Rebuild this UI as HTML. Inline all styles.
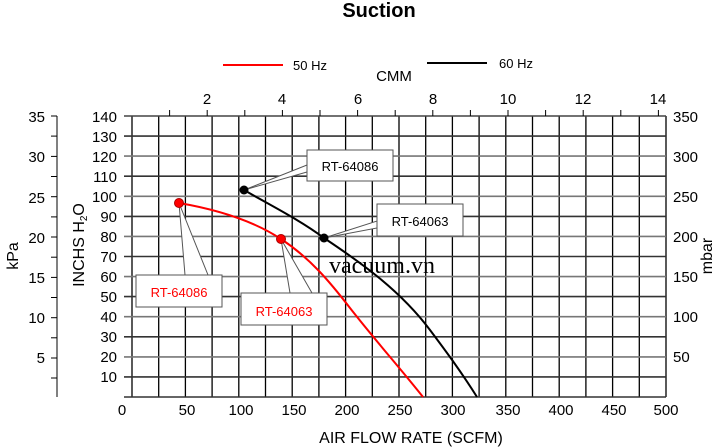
<!DOCTYPE html><html><head><style>body{margin:0;background:#fff}svg{display:block}text{font-family:"Liberation Sans",Arial,sans-serif}</style></head><body>
<svg width="720" height="447" viewBox="0 0 720 447" xmlns="http://www.w3.org/2000/svg">
<text x="379" y="17" font-size="20" font-weight="bold" text-anchor="middle">Suction</text>
<line x1="223" y1="65" x2="283" y2="65" stroke="#f00" stroke-width="2"/>
<text x="293" y="70" font-size="13">50 Hz</text>
<line x1="427" y1="63" x2="487" y2="63" stroke="#000" stroke-width="2"/>
<text x="499" y="68" font-size="13">60 Hz</text>
<text x="394" y="81" font-size="15" text-anchor="middle">CMM</text>
<g id="grid">
<g stroke="#000" stroke-width="1.3">
<line x1="132" y1="116" x2="132" y2="397"/><line x1="158.7" y1="116" x2="158.7" y2="397"/><line x1="185.4" y1="116" x2="185.4" y2="397"/><line x1="212.1" y1="116" x2="212.1" y2="397"/><line x1="238.8" y1="116" x2="238.8" y2="397"/><line x1="265.5" y1="116" x2="265.5" y2="397"/><line x1="292.2" y1="116" x2="292.2" y2="397"/><line x1="318.9" y1="116" x2="318.9" y2="397"/><line x1="345.6" y1="116" x2="345.6" y2="397"/><line x1="372.3" y1="116" x2="372.3" y2="397"/><line x1="399" y1="116" x2="399" y2="397"/><line x1="425.7" y1="116" x2="425.7" y2="397"/><line x1="452.4" y1="116" x2="452.4" y2="397"/><line x1="479.1" y1="116" x2="479.1" y2="397"/><line x1="505.8" y1="116" x2="505.8" y2="397"/><line x1="532.5" y1="116" x2="532.5" y2="397"/><line x1="559.2" y1="116" x2="559.2" y2="397"/><line x1="585.9" y1="116" x2="585.9" y2="397"/><line x1="612.6" y1="116" x2="612.6" y2="397"/><line x1="639.3" y1="116" x2="639.3" y2="397"/><line x1="666" y1="116" x2="666" y2="397"/>
</g>
<g stroke-width="1.6">
<line x1="124" y1="116" x2="666" y2="116" stroke="#444"/>
<line x1="124" y1="136.1" x2="666" y2="136.1" stroke="#333"/>
<line x1="124" y1="156.1" x2="666" y2="156.1" stroke="#777"/>
<line x1="124" y1="176.2" x2="666" y2="176.2" stroke="#333"/>
<line x1="124" y1="196.3" x2="666" y2="196.3" stroke="#777"/>
<line x1="124" y1="216.4" x2="666" y2="216.4" stroke="#333"/>
<line x1="124" y1="236.4" x2="666" y2="236.4" stroke="#777"/>
<line x1="124" y1="256.5" x2="666" y2="256.5" stroke="#333"/>
<line x1="124" y1="276.6" x2="666" y2="276.6" stroke="#777"/>
<line x1="124" y1="296.6" x2="666" y2="296.6" stroke="#333"/>
<line x1="124" y1="316.7" x2="666" y2="316.7" stroke="#777"/>
<line x1="124" y1="336.8" x2="666" y2="336.8" stroke="#333"/>
<line x1="124" y1="356.9" x2="666" y2="356.9" stroke="#777"/>
<line x1="124" y1="376.9" x2="666" y2="376.9" stroke="#333"/>
<line x1="124" y1="397" x2="666" y2="397" stroke="#333"/>
</g>
</g>
<g stroke="#000" stroke-width="1">
<line x1="169.6" y1="110" x2="169.6" y2="116"/><line x1="207.2" y1="110" x2="207.2" y2="116"/><line x1="244.8" y1="110" x2="244.8" y2="116"/><line x1="282.4" y1="110" x2="282.4" y2="116"/><line x1="320" y1="110" x2="320" y2="116"/><line x1="357.6" y1="110" x2="357.6" y2="116"/><line x1="395.2" y1="110" x2="395.2" y2="116"/><line x1="432.8" y1="110" x2="432.8" y2="116"/><line x1="470.4" y1="110" x2="470.4" y2="116"/><line x1="508" y1="110" x2="508" y2="116"/><line x1="545.6" y1="110" x2="545.6" y2="116"/><line x1="583.2" y1="110" x2="583.2" y2="116"/><line x1="620.8" y1="110" x2="620.8" y2="116"/><line x1="658.4" y1="110" x2="658.4" y2="116"/>
<line x1="57" y1="116" x2="57" y2="397"/>
<line x1="51" y1="116" x2="57" y2="116"/><line x1="51" y1="136.1" x2="57" y2="136.1"/><line x1="51" y1="156.4" x2="57" y2="156.4"/><line x1="51" y1="176.5" x2="57" y2="176.5"/><line x1="51" y1="196.7" x2="57" y2="196.7"/><line x1="51" y1="216.9" x2="57" y2="216.9"/><line x1="51" y1="237" x2="57" y2="237"/><line x1="51" y1="257.2" x2="57" y2="257.2"/><line x1="51" y1="277.4" x2="57" y2="277.4"/><line x1="51" y1="297.5" x2="57" y2="297.5"/><line x1="51" y1="317.7" x2="57" y2="317.7"/><line x1="51" y1="337.8" x2="57" y2="337.8"/><line x1="51" y1="358" x2="57" y2="358"/><line x1="51" y1="378" x2="57" y2="378"/>
</g>
<g font-size="15" text-anchor="middle">
<text x="207" y="104">2</text><text x="282" y="104">4</text><text x="358" y="104">6</text><text x="433" y="104">8</text><text x="508" y="104">10</text><text x="583" y="104">12</text><text x="658" y="104">14</text>
</g>
<g font-size="15" text-anchor="end">
<text x="45" y="122">35</text><text x="45" y="162">30</text><text x="45" y="203">25</text><text x="45" y="243">20</text><text x="45" y="283">15</text><text x="45" y="323">10</text><text x="45" y="363">5</text>
<text x="117" y="122">140</text><text x="117" y="142">130</text><text x="117" y="162">120</text><text x="117" y="182">110</text><text x="117" y="202">100</text><text x="117" y="222">90</text><text x="117" y="242">80</text><text x="117" y="262">70</text><text x="117" y="282">60</text><text x="117" y="302">50</text><text x="117" y="322">40</text><text x="117" y="342">30</text><text x="117" y="362">20</text><text x="117" y="382">10</text>
</g>
<g font-size="15">
<text x="673" y="122">350</text><text x="673" y="162">300</text><text x="673" y="202">250</text><text x="673" y="242">200</text><text x="673" y="282">150</text><text x="673" y="322">100</text><text x="673" y="362">50</text>
</g>
<g font-size="15" text-anchor="middle">
<text x="122" y="415">0</text><text x="187" y="415">50</text><text x="241" y="415">100</text><text x="294" y="415">150</text><text x="347" y="415">200</text><text x="400" y="415">250</text><text x="453" y="415">300</text><text x="508" y="415">350</text><text x="561" y="415">400</text><text x="614" y="415">450</text><text x="666" y="415">500</text>
</g>
<text x="411" y="443" font-size="16" text-anchor="middle">AIR FLOW RATE (SCFM)</text>
<text transform="translate(18,256) rotate(-90)" font-size="16" text-anchor="middle">kPa</text>
<text transform="translate(84,245) rotate(-90)" font-size="16" text-anchor="middle">INCHS  H<tspan font-size="10" dy="3">2</tspan><tspan dy="-3">O</tspan></text>
<text transform="translate(712,256) rotate(-90)" font-size="16" text-anchor="middle">mbar</text>
<text x="329" y="273" font-size="24" style="font-family:'Liberation Serif',serif">vacuum.vn</text>
<path d="M179,203 C220,210 255,222 281,239 C310,258 330,282 350,308 C375,340 400,368 423,397" fill="none" stroke="#f00" stroke-width="2"/>
<path d="M244,190 C270,205 300,220 324,238 C360,262 400,290 430,330 C445,350 460,370 477,397" fill="none" stroke="#000" stroke-width="2"/>
<g fill="#fff" stroke="#555" stroke-width="1">
<polygon points="244,190 307,165 307,172"/>
<rect x="307" y="150" width="86" height="31"/>
<polygon points="324,238 377,221 377,228"/>
<rect x="377" y="204" width="86" height="32"/>
<polygon points="179,203 185,275 208,275"/>
<rect x="136" y="275" width="86" height="32"/>
<polygon points="281,239 290,293 312,293"/>
<rect x="241" y="293" width="86" height="32"/>
</g>
<g font-size="13" text-anchor="middle">
<text x="350" y="171">RT-64086</text><text x="420" y="226">RT-64063</text>
<text x="179" y="297" fill="#f00">RT-64086</text><text x="284" y="316" fill="#f00">RT-64063</text>
</g>
<circle cx="179" cy="203" r="4.5" fill="#f00" stroke="#a00"/>
<circle cx="281" cy="239" r="4.5" fill="#f00" stroke="#a00"/>
<circle cx="244" cy="190" r="4.5" fill="#000"/>
<circle cx="324" cy="238" r="4.5" fill="#000"/>
</svg></body></html>
